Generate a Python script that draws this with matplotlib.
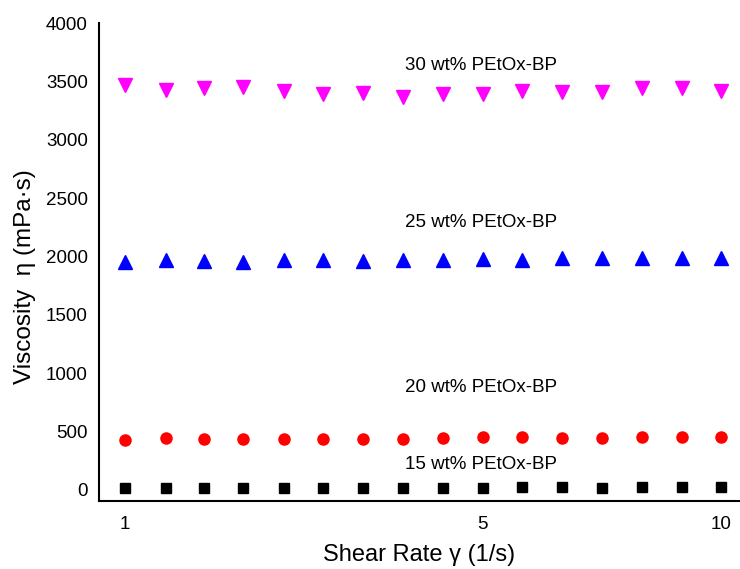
import matplotlib
matplotlib.use("Agg")
import matplotlib.pyplot as plt

plt.rcParams['font.family'] = ['Liberation Sans', 'DejaVu Sans']

shear_rate = [1.0, 1.17, 1.36, 1.58, 1.85, 2.15, 2.51, 2.93, 3.41, 3.98,
              4.64, 5.41, 6.31, 7.36, 8.58, 10.0]

visc_30 = [3470, 3430, 3440, 3450, 3420, 3390, 3400, 3370, 3390, 3390,
           3420, 3410, 3410, 3440, 3440, 3420]
visc_25 = [1950, 1970, 1960, 1950, 1970, 1970, 1960, 1970, 1970, 1980,
           1970, 1985, 1985, 1985, 1985, 1990]
visc_20 = [430, 445, 435, 440, 440, 440, 440, 435, 445, 450,
           450, 445, 445, 455, 455, 450]
visc_15 = [15, 15, 20, 20, 20, 20, 20, 20, 20, 20,
           25, 25, 20, 25, 25, 25]
err = 35

labels = ["30 wt% PEtOx-BP", "25 wt% PEtOx-BP", "20 wt% PEtOx-BP", "15 wt% PEtOx-BP"]
label_y = [3640, 2290, 880, 220]
label_x = 3.95

xtick_pos = [1, 3.98, 10]
xtick_labels = ["1", "5", "10"]
ytick_vals = [0, 500, 1000, 1500, 2000, 2500, 3000, 3500, 4000]

fig = plt.figure(figsize=(7.4, 5.69), dpi=100)
ax = fig.add_axes([99/740, 68/569, 1 - 99/740, (501-23)/569])

ax.errorbar(shear_rate, visc_30, yerr=err, fmt='v', color='#FF00FF', ms=9.5,
            elinewidth=0.8, capsize=0)
ax.errorbar(shear_rate, visc_25, yerr=err, fmt='^', color='#0000FF', ms=9.5,
            elinewidth=0.8, capsize=0)
ax.errorbar(shear_rate, visc_20, yerr=err, fmt='o', color='#FF0000', ms=8,
            elinewidth=0.8, capsize=0)
ax.errorbar(shear_rate, visc_15, yerr=err, fmt='s', color='black', ms=7,
            elinewidth=0.8, capsize=0)

for t, yy in zip(labels, label_y):
    ax.text(label_x, yy, t, ha='center', va='center', fontsize=13.5)

ax.set_xscale('log')
ax.set_xlim(0.905, 10.75)
ax.set_ylim(-95, 4000)
ax.set_xticks(xtick_pos)
ax.set_xticklabels(xtick_labels)
ax.minorticks_off()
ax.set_yticks(ytick_vals)
ax.tick_params(axis='both', length=0, labelsize=13.5, pad=8)
ax.tick_params(axis='x', pad=11)

for s in ['top', 'right']:
    ax.spines[s].set_visible(False)
for s in ['left', 'bottom']:
    ax.spines[s].set_linewidth(1.5)

ax.set_xlabel("Shear Rate γ (1/s)", fontsize=17, labelpad=8)
ax.set_ylabel("Viscosity  η (mPa·s)", fontsize=17.5)
ax.yaxis.set_label_coords(-0.098, 0.47)

fig.savefig("out.png", dpi=100)
